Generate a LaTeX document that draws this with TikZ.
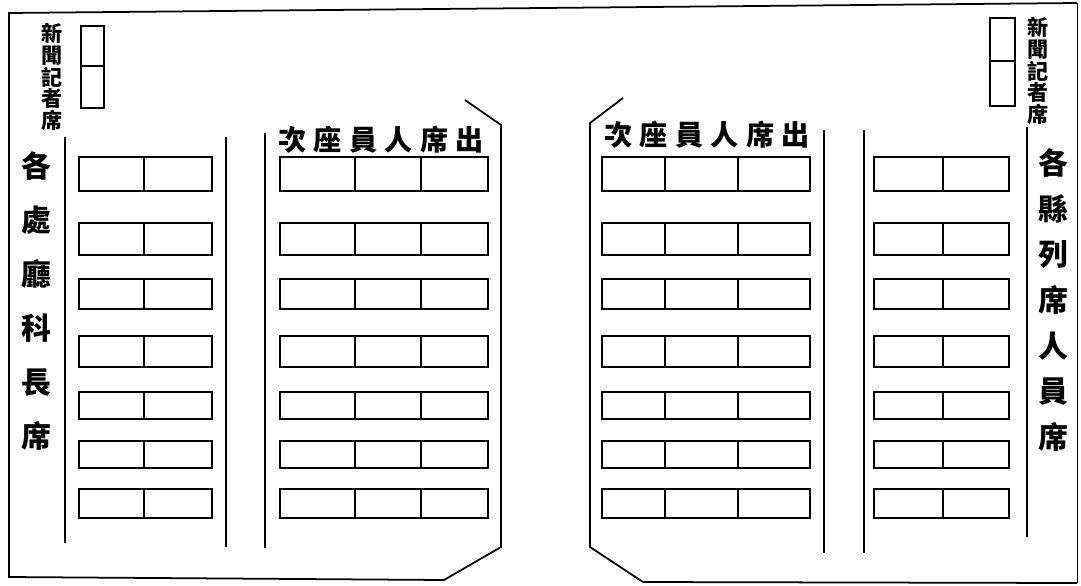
\documentclass[tikz,border=0pt]{standalone}
\usepackage{fontspec}
\newfontfamily\cjk{Noto Sans CJK TC}
\begin{document}
\begin{tikzpicture}[x=0.02cm,y=-0.02cm,line width=1pt,
  press/.style={align=center,inner sep=0pt,font=\cjk\bfseries\fontsize{12}{12.4}\selectfont},
  chiefs/.style={align=center,inner sep=0pt,font=\cjk\bfseries\fontsize{17}{30.8}\selectfont},
  counties/.style={align=center,inner sep=0pt,font=\cjk\bfseries\fontsize{17}{26}\selectfont},
  heading/.style={inner sep=0pt,font=\cjk\bfseries\fontsize{16}{16}\selectfont\addfontfeature{LetterSpace=26}}]
\useasboundingbox (0,0) rectangle (1081,585);
% frame
\draw (1077,3) -- (9,13) -- (9,577) -- (444,580) -- (501,547) -- (501,125) -- (465,100);
\draw (623,98) -- (590,123) -- (590,547) -- (643,582) -- (1077,583);
\draw[line width=0.5pt] (1077,583) -- (1077,3);
% aisles
\draw (65,137) -- (65,543);
\draw (226,137) -- (226,547);
\draw (265,133) -- (265,548);
\draw (824,130) -- (824,553);
\draw (864,130) -- (864,553);
\draw (1027,127) -- (1027,537);
% press boxes
\draw (81,26) rectangle (104,108) (81,66) -- (104,66);
\draw (990,18) rectangle (1015,106) (990,61) -- (1015,61);
% desks
\foreach \t/\b in {157/191,223/255,279/309,336/367,392/419,441/468,489/518} {
  \draw (79,\t) rectangle (212,\b) (144,\t) -- (144,\b);
  \draw (280,\t) rectangle (488,\b) (355,\t) -- (355,\b) (421,\t) -- (421,\b);
  \draw (602,\t) rectangle (810,\b) (665,\t) -- (665,\b) (738,\t) -- (738,\b);
  \draw (874,\t) rectangle (1009,\b) (943,\t) -- (943,\b);
}
% labels
\node[press] (newsL) at (52,77) {新\\聞\\記\\者\\席};
\node[press] (newsR) at (1038,71) {新\\聞\\記\\者\\席};
\node[chiefs] (chiefL) at (36,301) {各\\處\\廳\\科\\長\\席};
\node[counties] (countyR) at (1053,300) {各\\縣\\列\\席\\人\\員\\席};
\node[heading] (titleL) at (381,140) {次座員人席出};
\node[heading] (titleR) at (707,135) {次座員人席出};
\end{tikzpicture}
\end{document}
